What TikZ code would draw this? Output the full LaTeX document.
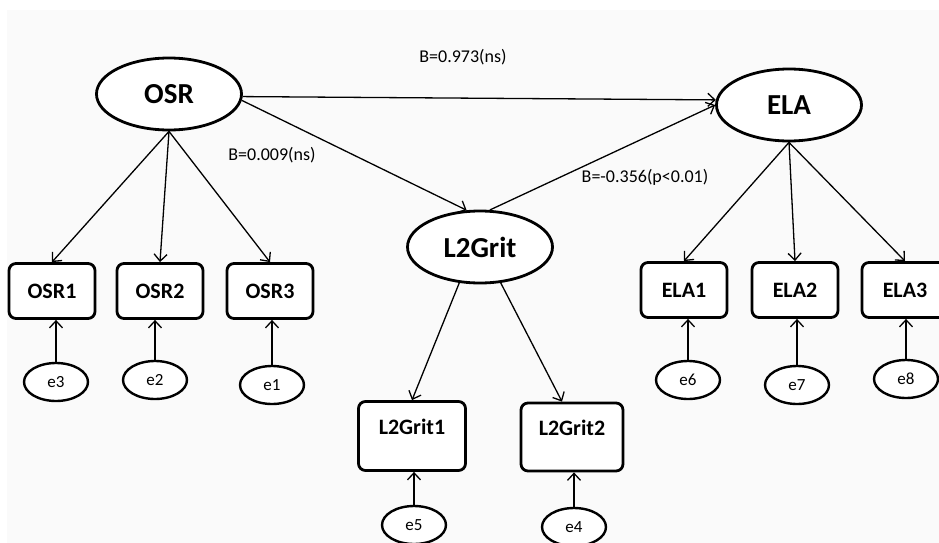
\documentclass[tikz,border=0pt]{standalone}
\usepackage{fontspec}
\setmainfont{Carlito}
\usetikzlibrary{shapes.geometric,arrows.meta}
\begin{document}
\begin{tikzpicture}[x=1pt, y=-1pt, line join=round, >={Straight Barb[length=7pt,width=13pt]},
    latent/.style={ellipse, draw, line width=2.8pt, fill=white, minimum width=145pt, minimum height=72pt, inner sep=0pt, font=\fontsize{29}{33}\selectfont\bfseries},
    obs/.style={rectangle, rounded corners=7pt, draw, line width=2.8pt, fill=white, minimum width=86pt, minimum height=55pt, inner sep=0pt, font=\fontsize{22}{26}\selectfont\bfseries},
    err/.style={ellipse, draw, line width=2.4pt, fill=white, minimum width=64pt, minimum height=38pt, inner sep=0pt, font=\fontsize{17}{20}\selectfont},
    link/.style={->, line width=1.3pt},
    coef/.style={font=\fontsize{18}{22}\selectfont}]
    \fill[white](0,0) rectangle (939,543);
    \fill[black!2](7,10) rectangle (939,543);
    \useasboundingbox (0,0) rectangle (939,543);
    \node[latent] (OSR) at (169,94) {OSR};
    \node[latent] (ELA) at (789,105) {ELA};
    \node[latent] (L2Grit) at (480,247) {L2Grit};
    \foreach\i/\x/\e/\ex/\ey in{1/52/3/56/382, 2/160/2/155/380, 3/270/1/272/385}{
        \node[obs] (OSR\i) at (\x,291) {OSR\i};
        \node[err] (e\e) at (\ex,\ey) {e\e};
        \draw[link](OSR.south)--(OSR\i.north);
        \draw[link](e\e.north)--(e\e.north|-OSR\i.south);
    }
    \foreach\i/\x/\e/\ex/\ey in{1/684/6/688/380, 2/795/7/797/385, 3/905/8/906/379}{
        \node[obs] (ELA\i) at (\x,290) {ELA\i};
        \node[err] (e\e) at (\ex,\ey) {e\e};
        \draw[link](ELA.south)--(ELA\i.north);
        \draw[link](e\e.north)--(e\e.north|-ELA\i.south);
    }
    \node[obs, minimum width=107pt, minimum height=69pt, text depth=18pt] (L2Grit1) at (412,436) {L2Grit1};
    \node[obs, minimum width=102pt, minimum height=68pt, text depth=18pt] (L2Grit2) at (572,437) {L2Grit2};
    \node[err] (e5) at (414,525) {e5};
    \node[err] (e4) at (574,527) {e4};
    \draw[link](L2Grit.240)--(L2Grit1.north);
    \draw[link](L2Grit.300)--([xshift=-10pt]L2Grit2.north);
    \draw[link](e5.north)--(e5.north|-L2Grit1.south);
    \draw[link](e4.north)--(e4.north|-L2Grit2.south);
    \draw[link](OSR.-2)--(ELA.176);
    \draw[link](OSR.-5)--(L2Grit.110);
    \draw[link](L2Grit.75)--(ELA.west);
    \node[coef] (b1) at (463,57) {B=0.973(ns)};
    \node[coef] (b2) at (272,155) {B=0.009(ns)};
    \node[coef] (b3) at (645,177) {B=-0.356(p<0.01)};
\end{tikzpicture}
\end{document}
